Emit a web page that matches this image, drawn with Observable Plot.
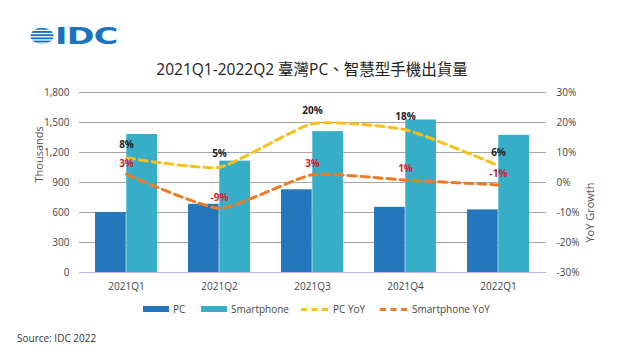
<!DOCTYPE html>
<html><head><meta charset="utf-8">
<script src="https://cdn.jsdelivr.net/npm/d3@7"></script>
<script src="https://cdn.jsdelivr.net/npm/@observablehq/plot@0.6"></script>
<style>
body{margin:0;background:#fff;font-family:"Open Sans","Noto Sans",sans-serif;}
#page{position:relative;width:624px;height:353px;overflow:hidden;}
#chart{position:absolute;left:0;top:80px;}
.abs{position:absolute;white-space:nowrap;}
#title{left:0;width:624px;text-align:center;top:59px;font-size:15.5px;line-height:20px;color:#222;font-family:"Open Sans","Noto Sans CJK TC",sans-serif;}
#source{left:17px;top:331px;font-size:10px;color:#333;}
.lg{position:absolute;top:302px;height:14px;font-size:10px;line-height:14px;color:#444;display:flex;align-items:center;}
.lg .sw{width:26px;height:6px;margin-right:4px;}
.lg .dash{width:27px;height:0;border-top:3px dashed;margin-right:5px;}
#logotext{left:55px;top:22px;font-family:"DejaVu Sans",sans-serif;font-weight:bold;font-size:23px;line-height:28px;color:#1b73be;letter-spacing:-0.5px;transform:scaleX(1.45);transform-origin:0 0;}
</style></head>
<body><div id="page">
<svg class="abs" style="left:30px;top:27px" width="26" height="20" viewBox="0 0 26 20">
  <defs><clipPath id="gc"><ellipse cx="12" cy="9" rx="11.5" ry="8.3"/></clipPath></defs>
  <g clip-path="url(#gc)" fill="#1b73be">
    <rect x="0" y="0.8" width="26" height="1.9"/>
    <rect x="0" y="4" width="26" height="1.9"/>
    <rect x="0" y="7.2" width="26" height="1.9"/>
    <rect x="0" y="10.4" width="26" height="1.9"/>
    <rect x="0" y="13.6" width="26" height="1.9"/>
    <rect x="0" y="16.8" width="26" height="1.9"/>
  </g>
</svg>
<div id="logotext" class="abs">IDC</div>
<div id="title" class="abs">2021Q1-2022Q2 臺灣PC、智慧型手機出貨量</div>
<div id="chart"></div>
<div class="lg" style="left:143px"><div class="sw" style="background:#2577bd"></div>PC</div>
<div class="lg" style="left:201px"><div class="sw" style="background:#37aec7"></div>Smartphone</div>
<div class="lg" style="left:301px"><div class="dash" style="border-color:#fbbf1a"></div>PC YoY</div>
<div class="lg" style="left:380px"><div class="dash" style="border-color:#f07a24"></div>Smartphone YoY</div>
<div id="source" class="abs">Source: IDC 2022</div>
</div>
<script>
const quarters = ["2021Q1","2021Q2","2021Q3","2021Q4","2022Q1"];
const pc = [600, 682, 827, 652, 626];
const smartphone = [1380, 1114, 1409, 1525, 1372];
const pcYoY = [8.2, 5.1, 19.6, 17.6, 5.6];
const smartphoneYoY = [2.7, -8.6, 2.6, 0.8, -0.8];
const leftTicks = [0, 300, 600, 900, 1200, 1500, 1800];
const rightTicks = [-30, -20, -10, 0, 10, 20, 30];

const W = 624, ML = 79, MR = 78;
const pInner = 0.33;
const step = (W - ML - MR) / quarters.length;
const half = step * (1 - pInner) / 2;

const toLeft = v => (v + 30) * 30; // map % onto the left scale
const pcBars = quarters.map((q, i) => ({q, v: pc[i]}));
const spBars = quarters.map((q, i) => ({q, v: smartphone[i]}));
const pcLine = quarters.map((q, i) => ({q, v: toLeft(pcYoY[i]), lab: Math.round(pcYoY[i]) + "%"}));
const spLine = quarters.map((q, i) => ({q, v: toLeft(smartphoneYoY[i]), lab: Math.round(smartphoneYoY[i]) + "%"}));

const chart = Plot.plot({
  width: W, height: 220,
  marginLeft: ML, marginRight: MR, marginTop: 12, marginBottom: 28,
  style: {fontFamily: '"Open Sans","Noto Sans",sans-serif', fontSize: "10px", color: "#444"},
  x: {domain: quarters, paddingInner: pInner, paddingOuter: pInner / 2, label: null},
  y: {domain: [0, 1800], label: null},
  marks: [
    Plot.ruleY(leftTicks.filter(d => d > 0), {stroke: "#a6a6a6", strokeWidth: 1}),
    Plot.barY(pcBars, {x: "q", y: "v", fill: "#2577bd", insetRight: half}),
    Plot.barY(spBars, {x: "q", y: "v", fill: "#37aec7", insetLeft: half}),
    Plot.ruleY([0], {stroke: "#b6b6ea", strokeWidth: 1.2}),
    Plot.line(pcLine, {x: "q", y: "v", stroke: "#fbbf1a", strokeWidth: 3, strokeDasharray: "8,5", curve: "cardinal", tension: 0.5}),
    Plot.line(spLine, {x: "q", y: "v", stroke: "#f07a24", strokeWidth: 3, strokeDasharray: "8,5", curve: "cardinal", tension: 0.5}),
    Plot.text(pcLine, {x: "q", y: "v", text: "lab", dy: -13, fill: "#222", fontWeight: "bold", fontSize: 10}),
    Plot.text(spLine, {x: "q", y: "v", text: "lab", dy: -11, fill: "#d0202b", fontWeight: "bold", fontSize: 10}),
    Plot.axisY(leftTicks, {anchor: "left", tickSize: 0, tickPadding: 10, tickFormat: d3.format(","), label: null, fontSize: 10}),
    Plot.axisY(rightTicks.map(toLeft), {anchor: "right", tickSize: 0, tickPadding: 10, tickFormat: d => Math.round(d / 30 - 30) + "%", label: null, fontSize: 10}),
    Plot.axisX({tickSize: 0, tickPadding: 10, label: null, fontSize: 10}),
    Plot.text(["Thousands"], {frameAnchor: "left", dx: -40, rotate: -90, fontSize: 11, fill: "#555"}),
    Plot.text(["YoY Growth"], {frameAnchor: "right", dx: 44, rotate: -90, fontSize: 11, fill: "#555"})
  ]
});
document.getElementById("chart").appendChild(chart);
</script>
</body></html>
